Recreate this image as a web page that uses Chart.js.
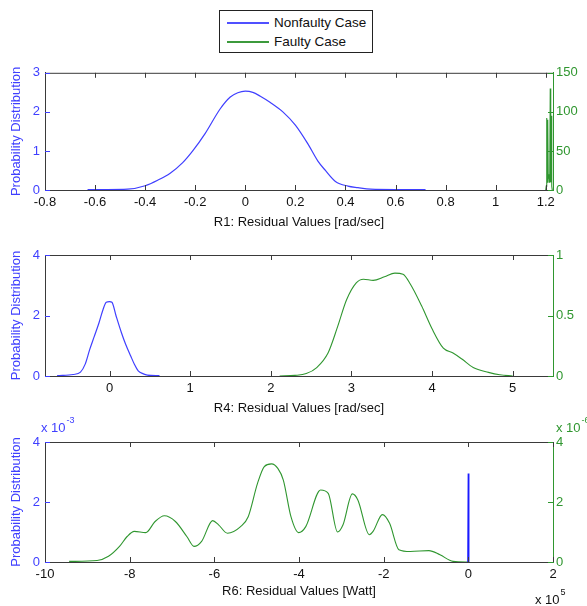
<!DOCTYPE html>
<html>
<head>
<meta charset="utf-8">
<script src="https://cdn.jsdelivr.net/npm/chart.js@4.4.1/dist/chart.umd.min.js"></script>
<style>
  body { margin: 0; background: #fff; width: 587px; height: 606px; position: relative; overflow: hidden; font-family: "Liberation Sans", Arial, sans-serif; }
  canvas { position: absolute; left: 0; }
  #legend { position: absolute; left: 219px; top: 10px; width: 152px; height: 41px; border: 1px solid #222; background: #fff; font-size: 13.5px; color: #111; }
  .row { position: absolute; left: 7px; height: 16px; line-height: 16px; white-space: nowrap; }
  .swatch { display: inline-block; width: 42px; height: 0; border-top: 2px solid; vertical-align: middle; margin-right: 5px; }
</style>
</head>
<body>
<div id="legend">
  <div class="row" style="top:4px"><span class="swatch" style="border-color:#5050ff"></span>Nonfaulty Case</div>
  <div class="row" style="top:23px"><span class="swatch" style="border-color:#3c9a3c"></span>Faulty Case</div>
</div>
<canvas id="chartR1" width="587" height="175" style="top:60px"></canvas>
<canvas id="chartR4" width="587" height="180" style="top:240px"></canvas>
<canvas id="chartR6" width="587" height="201" style="top:405px"></canvas>
<script>
// ---- R1 data ----
const r1NonfaultyX = [-0.63, -0.55, -0.47, -0.4, -0.35, -0.3, -0.25, -0.21, -0.16, -0.1, -0.06, -0.03, 0, 0.03, 0.06, 0.1, 0.15, 0.2, 0.25, 0.29, 0.32, 0.36, 0.41, 0.45, 0.5, 0.6, 0.72];
const r1NonfaultyY = [0.01, 0.01, 0.02, 0.11, 0.25, 0.43, 0.7, 1.0, 1.45, 2.08, 2.38, 2.49, 2.53, 2.5, 2.4, 2.24, 2.0, 1.66, 1.18, 0.74, 0.5, 0.22, 0.1, 0.06, 0.02, 0.01, 0.01];
const r1FaultyX = [1.2, 1.202, 1.204, 1.206, 1.208, 1.21, 1.212, 1.214, 1.216, 1.218, 1.22, 1.222, 1.224, 1.226];
const r1FaultyY = [0, 5, 92, 10, 90, 15, 20, 10, 15, 130, 10, 95, 5, 0];
const r1XTicks = [-0.8, -0.6, -0.4, -0.2, 0, 0.2, 0.4, 0.6, 0.8, 1, 1.2];
const r1LeftTicks = [0, 1, 2, 3];
const r1RightTicks = [0, 50, 100, 150];

// ---- R4 data ----
const r4NonfaultyX = [-0.65, -0.45, -0.36, -0.3, -0.245, -0.19, -0.13, -0.08, -0.04, 0, 0.03, 0.08, 0.148, 0.2, 0.263, 0.31, 0.356, 0.42, 0.47, 0.62];
const r4NonfaultyY = [0.01, 0.05, 0.13, 0.4, 0.88, 1.3, 1.76, 2.2, 2.44, 2.46, 2.44, 2.0, 1.43, 1.05, 0.66, 0.38, 0.17, 0.07, 0.03, 0.01];
const r4FaultyX = [2.11, 2.3, 2.44, 2.57, 2.71, 2.83, 2.94, 3.06, 3.15, 3.27, 3.41, 3.54, 3.64, 3.73, 3.87, 4.0, 4.14, 4.26, 4.37, 4.51, 4.7, 4.84, 5.0];
const r4FaultyY = [0, 0.005, 0.02, 0.07, 0.19, 0.41, 0.63, 0.77, 0.8, 0.79, 0.82, 0.85, 0.84, 0.76, 0.58, 0.39, 0.23, 0.19, 0.14, 0.07, 0.03, 0.01, 0];
const r4XTicks = [0, 1, 2, 3, 4, 5];
const r4LeftTicks = [0, 2, 4];
const r4RightTicks = [0, 0.5, 1];

// ---- R6 data (x in 1e5 W, left y in 1e-3, right y in 1e-6) ----
const r6NonfaultyX = [-0.01, 0, 0.01];
const r6NonfaultyY = [0, 2.95, 0];
const r6FaultyX = [-9.43, -8.77, -8.5, -8.24, -8.06, -7.89, -7.62, -7.4, -7.18, -6.92, -6.65, -6.48, -6.3, -6.04, -5.9, -5.69, -5.38, -5.2, -4.98, -4.82, -4.65, -4.5, -4.37, -4.19, -4.01, -3.84, -3.49, -3.31, -3.09, -2.96, -2.74, -2.61, -2.34, -2.25, -2.03, -1.86, -1.64, -1.37, -0.93, -0.67, -0.36, 0];
const r6FaultyY = [0.02, 0.05, 0.19, 0.52, 0.85, 1.02, 0.98, 1.35, 1.54, 1.35, 0.85, 0.52, 0.69, 1.38, 1.24, 0.96, 1.18, 1.51, 2.62, 3.18, 3.27, 3.12, 2.73, 1.51, 0.98, 1.18, 2.4, 2.29, 1.0, 1.24, 2.27, 2.07, 0.91, 1.02, 1.58, 1.29, 0.41, 0.35, 0.38, 0.24, 0.02, 0];
const r6XTicks = [-10, -8, -6, -4, -2, 0, 2];
const r6LeftTicks = [0, 2, 4];
const r6RightTicks = [0, 2, 4];

const BLUE = "#3f3fff";
const GREEN = "#2f962f";
const FONT = { family: "'Liberation Sans', Arial, sans-serif", size: 13 };

function toPoints(xs, ys) {
  return xs.map((x, i) => ({ x: x, y: ys[i] }));
}

function fmt(v) {
  return String(Math.round(v * 100) / 100);
}

// MATLAB-style inward ticks, top frame line and the exponent notes
const frameTicks = {
  id: "frameTicks",
  afterDraw(chart, args, opts) {
    const { ctx, chartArea: a, scales } = chart;
    ctx.save();
    ctx.lineWidth = 1;
    ctx.strokeStyle = "#3a3a3a";
    ctx.beginPath();
    ctx.moveTo(a.left, a.top + 0.5);
    ctx.lineTo(a.right, a.top + 0.5);
    scales.x.ticks.forEach(t => {
      const px = Math.round(scales.x.getPixelForValue(t.value)) + 0.5;
      ctx.moveTo(px, a.bottom); ctx.lineTo(px, a.bottom - 5);
      ctx.moveTo(px, a.top); ctx.lineTo(px, a.top + 5);
    });
    ctx.stroke();
    ctx.strokeStyle = BLUE;
    ctx.beginPath();
    scales.y.ticks.forEach(t => {
      const py = Math.round(scales.y.getPixelForValue(t.value)) + 0.5;
      ctx.moveTo(a.left, py); ctx.lineTo(a.left + 5, py);
    });
    ctx.stroke();
    ctx.strokeStyle = GREEN;
    ctx.beginPath();
    scales.y2.ticks.forEach(t => {
      const py = Math.round(scales.y2.getPixelForValue(t.value)) + 0.5;
      ctx.moveTo(a.right, py); ctx.lineTo(a.right - 5, py);
    });
    ctx.stroke();

    (opts.notes || []).forEach(n => {
      ctx.fillStyle = n.color;
      ctx.font = "13px 'Liberation Sans', Arial, sans-serif";
      ctx.textBaseline = "middle";
      ctx.textAlign = "left";
      ctx.fillText(n.base, n.x, n.y);
      const w = ctx.measureText(n.base).width;
      ctx.font = "9px 'Liberation Sans', Arial, sans-serif";
      ctx.fillText(n.sup, n.x + w + 1, n.y - 7);
    });
    ctx.restore();
  }
};

function makePanel(id, cfg) {
  const ctx = document.getElementById(id).getContext("2d");
  return new Chart(ctx, {
    type: "line",
    data: {
      datasets: [
        {
          label: "Nonfaulty Case",
          data: toPoints(cfg.nonX, cfg.nonY),
          borderColor: cfg.blueColor || BLUE,
          borderWidth: cfg.blueWidth || 1.2,
          pointRadius: 0,
          cubicInterpolationMode: cfg.blueSpike ? "default" : "monotone",
          tension: 0,
          yAxisID: "y"
        },
        {
          label: "Faulty Case",
          data: toPoints(cfg.fX, cfg.fY),
          borderColor: GREEN,
          borderWidth: 1.1,
          pointRadius: 0,
          cubicInterpolationMode: cfg.greenSpike ? "default" : "monotone",
          tension: 0,
          yAxisID: "y2"
        }
      ]
    },
    options: {
      responsive: false,
      animation: false,
      events: [],
      layout: { padding: { top: cfg.padTop, left: 0, right: 0, bottom: 0 } },
      plugins: {
        legend: { display: false },
        tooltip: { enabled: false },
        frameTicks: { notes: cfg.notes || [] }
      },
      scales: {
        x: {
          type: "linear",
          min: cfg.xMin, max: cfg.xMax,
          afterBuildTicks: s => { s.ticks = cfg.xTicks.map(v => ({ value: v })); },
          afterFit: s => { s.height = cfg.xHeight; },
          grid: { display: false, drawTicks: false },
          border: { display: true, color: "#3a3a3a", width: 1 },
          ticks: { color: "#111", font: FONT, padding: 5, maxRotation: 0, autoSkip: false, callback: v => fmt(v) },
          title: { display: true, text: cfg.xTitle, color: "#111", font: FONT, padding: { top: 0, bottom: cfg.titlePad } }
        },
        y: {
          position: "left",
          min: cfg.leftTicks[0], max: cfg.leftTicks[cfg.leftTicks.length - 1],
          afterBuildTicks: s => { s.ticks = cfg.leftTicks.map(v => ({ value: v })); },
          afterFit: s => { s.width = 45; },
          grid: { display: false, drawTicks: false },
          border: { display: true, color: "#3a3a3a", width: 1 },
          ticks: { color: BLUE, font: FONT, padding: 5, callback: v => fmt(v) },
          title: { display: true, text: "Probability Distribution", color: BLUE, font: FONT, padding: { top: 9, bottom: 0 } }
        },
        y2: {
          position: "right",
          min: cfg.rightTicks[0], max: cfg.rightTicks[cfg.rightTicks.length - 1],
          afterBuildTicks: s => { s.ticks = cfg.rightTicks.map(v => ({ value: v })); },
          afterFit: s => { s.width = 34; },
          grid: { display: false, drawTicks: false },
          border: { display: true, color: GREEN, width: 1 },
          ticks: { color: GREEN, font: FONT, padding: 3, callback: v => fmt(v) }
        }
      }
    },
    plugins: [frameTicks]
  });
}

makePanel("chartR1", {
  nonX: r1NonfaultyX, nonY: r1NonfaultyY, fX: r1FaultyX, fY: r1FaultyY, greenSpike: true,
  xMin: -0.8, xMax: 1.229, xTicks: r1XTicks, leftTicks: r1LeftTicks, rightTicks: r1RightTicks,
  xTitle: "R1: Residual Values [rad/sec]", padTop: 11, xHeight: 45, titlePad: 5
});

makePanel("chartR4", {
  nonX: r4NonfaultyX, nonY: r4NonfaultyY, fX: r4FaultyX, fY: r4FaultyY,
  xMin: -0.8, xMax: 5.5, xTicks: r4XTicks, leftTicks: r4LeftTicks, rightTicks: r4RightTicks,
  xTitle: "R4: Residual Values [rad/sec]", padTop: 15, xHeight: 44, titlePad: 4
});

makePanel("chartR6", {
  nonX: r6NonfaultyX, nonY: r6NonfaultyY, fX: r6FaultyX, fY: r6FaultyY, blueSpike: true,
  xMin: -10, xMax: 2, xTicks: r6XTicks, leftTicks: r6LeftTicks, rightTicks: r6RightTicks,
  xTitle: "R6: Residual Values [Watt]", padTop: 37, xHeight: 44, titlePad: 7,
  blueColor: "#1a1aff", blueWidth: 1.4,
  notes: [
    { base: "x 10", sup: "-3", x: 41, y: 23, color: BLUE },
    { base: "x 10", sup: "-6", x: 556, y: 23, color: GREEN },
    { base: "x 10", sup: "5", x: 535, y: 195, color: "#111" }
  ]
});
</script>
</body>
</html>
